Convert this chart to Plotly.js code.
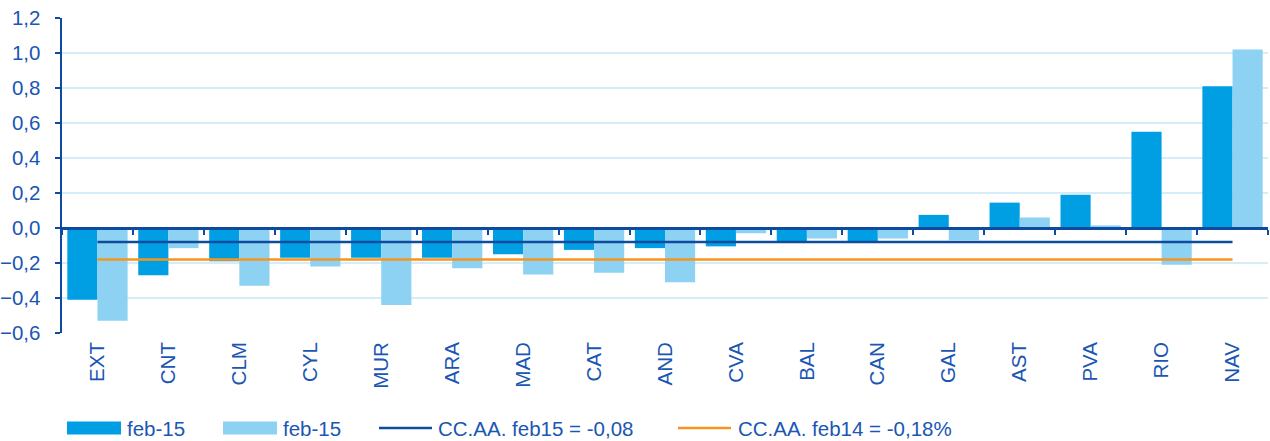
<!DOCTYPE html>
<html>
<head>
<meta charset="utf-8">
<script src="https://cdn.plot.ly/plotly-3.0.1.min.js"></script>
<style>html,body{margin:0;padding:0;background:#fff;}#chart{width:1270px;height:441px;}</style>
</head>
<body>
<div id="chart"></div>
<script>
var categories = ["EXT","CNT","CLM","CYL","MUR","ARA","MAD","CAT","AND","CVA","BAL","CAN","GAL","AST","PVA","RIO","NAV"];
var serieA = [-0.41,-0.27,-0.19,-0.17,-0.17,-0.17,-0.15,-0.125,-0.115,-0.105,-0.08,-0.08,0.075,0.145,0.19,0.55,0.81];
var serieB = [-0.53,-0.115,-0.33,-0.22,-0.44,-0.23,-0.265,-0.255,-0.31,-0.03,-0.06,-0.06,-0.07,0.06,0.015,-0.21,1.02];
var mediaFeb15 = -0.08;
var mediaFeb14 = -0.18;
var seriesNames = ["feb-15","feb-15","CC.AA. feb15 = -0,08","CC.AA. feb14 = -0,18%"];
var yTicks = [-0.6,-0.4,-0.2,0,0.2,0.4,0.6,0.8,1.0,1.2];

var TXT = "#1A56B3", AXC = "#0E4AA0";
var C1 = "#009FE3", C2 = "#8DD2F2", C3 = "#0D4C9F", C4 = "#F7941D";
var FONT = "Liberation Sans, Arial, sans-serif";
var FS = 20.5;

var W = 1270, H = 441, ML = 62, MR = 2, MT = 18, MB = 108;
var PW = W - ML - MR, PH = H - MT - MB;
function px(x){ return (x - ML) / PW; }
function py(y){ return (H - MB - y) / PH; }

var traces = [
  {type:"bar", x:categories, y:serieA, name:seriesNames[0], marker:{color:C1}, showlegend:false},
  {type:"bar", x:categories, y:serieB, name:seriesNames[1], marker:{color:C2}, showlegend:false},
  {type:"scatter", mode:"lines", x:categories, y:categories.map(function(){return mediaFeb15;}), name:seriesNames[2], line:{color:C3, width:2.5}, xaxis:"x2", showlegend:false},
  {type:"scatter", mode:"lines", x:categories, y:categories.map(function(){return mediaFeb14;}), name:seriesNames[3], line:{color:C4, width:2.5}, xaxis:"x2", showlegend:false}
];

// manual legend
var legendItems = [
  {kind:"rect", color:C1, x0:67, x1:121, tx:125, text:seriesNames[0]},
  {kind:"rect", color:C2, x0:223, x1:277, tx:281, text:seriesNames[1]},
  {kind:"line", color:C3, x0:379, x1:432, tx:436, text:seriesNames[2]},
  {kind:"line", color:C4, x0:678, x1:731, tx:736, text:seriesNames[3]}
];
var shapes = [], annotations = [];
var LY = 428;
legendItems.forEach(function(it){
  if (it.kind === "rect") {
    shapes.push({type:"rect", xref:"paper", yref:"paper", x0:px(it.x0), x1:px(it.x1), y0:py(LY-6.5), y1:py(LY+6.5), fillcolor:it.color, line:{width:0}});
  } else {
    shapes.push({type:"line", xref:"paper", yref:"paper", x0:px(it.x0), x1:px(it.x1), y0:py(LY), y1:py(LY), line:{color:it.color, width:2.5}});
  }
  annotations.push({xref:"paper", yref:"paper", x:px(it.tx), y:py(LY), xanchor:"left", yanchor:"middle", text:it.text, showarrow:false, font:{family:FONT, size:FS, color:TXT}});
});

var layout = {
  width:W, height:H,
  margin:{l:ML, r:MR, t:MT, b:MB, pad:0},
  paper_bgcolor:"#fff", plot_bgcolor:"#fff",
  separators:",.",
  barmode:"group", bargap:0.15, bargroupgap:0,
  font:{family:FONT, size:FS, color:TXT},
  xaxis:{
    type:"category", showline:false, ticks:"", showgrid:false, zeroline:false,
    tickangle:-90, tickfont:{family:FONT, size:FS, color:TXT}, range:[-0.5,16.5],
    ticklabelstandoff:4
  },
  xaxis2:{
    type:"category", overlaying:"x", anchor:"free", position:(0-(-0.6))/1.8,
    showline:true, linecolor:AXC, linewidth:2.5,
    ticks:"outside", tickson:"boundaries", ticklen:5, tickwidth:2, tickcolor:AXC,
    showticklabels:false, showgrid:false, zeroline:false, range:[-0.5,16.5]
  },
  yaxis:{
    range:[-0.6,1.2], tickvals:yTicks, tickformat:".1f",
    showline:true, linecolor:AXC, linewidth:2.5,
    ticks:"outside", ticklen:5, tickwidth:2, tickcolor:AXC,
    showgrid:true, gridcolor:"#D5EDF9", gridwidth:2, zeroline:false,
    tickfont:{family:FONT, size:FS, color:TXT}, ticklabelstandoff:10
  },
  shapes:shapes,
  annotations:annotations
};

Plotly.newPlot("chart", traces, layout, {displayModeBar:false, staticPlot:true});
</script>
</body>
</html>
